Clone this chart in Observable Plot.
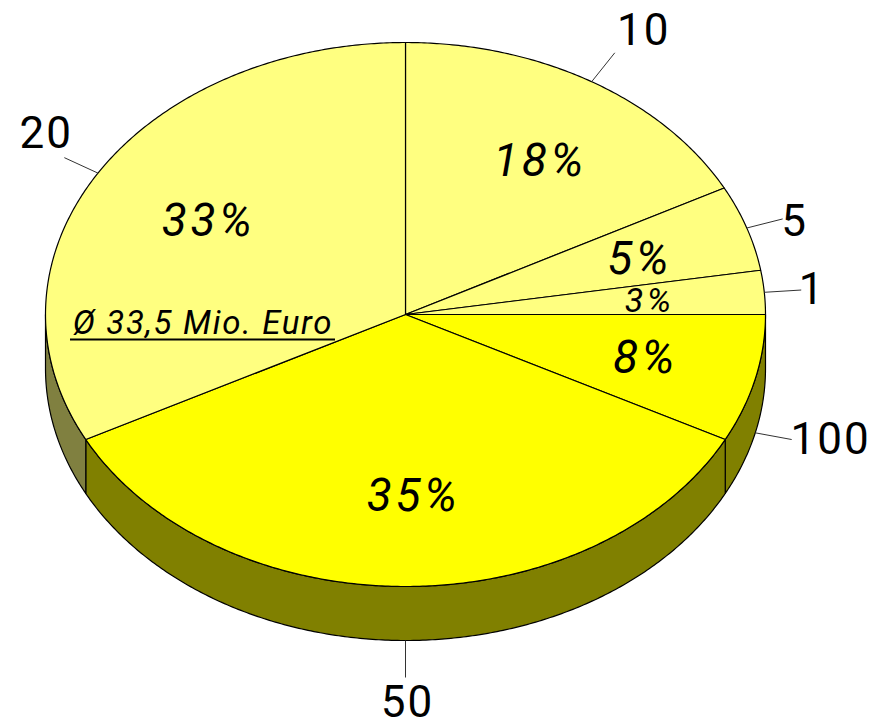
<!DOCTYPE html>
<html>
<head>
<meta charset="utf-8">
<script src="https://cdn.jsdelivr.net/npm/d3@7"></script>
<script src="https://cdn.jsdelivr.net/npm/@observablehq/plot@0.6"></script>
<style>
html,body{margin:0;padding:0;background:#fff}
svg{display:block}
.share{letter-spacing:3.5px}
.noteText{letter-spacing:1.7px}
.cat{letter-spacing:2px}
</style>
</head>
<body>
<div id="chart"></div>
<script>
// Data
const categories = ["10", "5", "1", "100", "50", "20"];
const shareLabels = ["18%", "5%", "3%", "8%", "35%", "33%"];
const sliceShares = [17.3, 5.1, 2.6, 7.6, 34.8, 32.6]; // measured sweep of each slice
const note = "Ø 33,5 Mio. Euro";

// Colours
const topColors = ["#ffff80", "#ffff80", "#ffff80", "#ffff00", "#ffff00", "#ffff80"];
const sideColors = ["#808040", "#808040", "#808040", "#808000", "#808000", "#808040"];

// Layout of the tilted disc, in pixels
const W = 872, H = 721, CX = 405, CY = 314, RX = 360, RY = 272, DEPTH = 54, LEADER = 37;
const depth = DEPTH / RY;
const total = d3.sum(sliceShares);
const rad = a => a * Math.PI / 180;
const px = a => Math.sin(rad(a));
const py = a => Math.cos(rad(a));

let acc = 0;
const slices = categories.map((c, i) => {
  const start = acc / total * 360;
  acc += sliceShares[i];
  const end = acc / total * 360;
  return {c, i, start, end, mid: (start + end) / 2};
});

function arc(a0, a1, dz = 0) {
  const n = Math.max(2, Math.ceil((a1 - a0) * 2));
  return d3.range(n + 1).map(k => {
    const a = a0 + (a1 - a0) * k / n;
    return {x: px(a), y: py(a) - dz};
  });
}

const tops = slices.flatMap(s => {
  const pts = [{x: 0, y: 0}, ...arc(s.start, s.end), {x: 0, y: 0}];
  return pts.map(p => ({...p, z: s.c, fill: topColors[s.i]}));
});
const sides = slices.flatMap(s => {
  const a0 = Math.max(s.start, 90), a1 = Math.min(s.end, 270);
  if (a1 <= a0) return [];
  const upper = arc(a0, a1), lower = arc(a0, a1, depth).reverse();
  return [...upper, ...lower, upper[0]].map(p => ({...p, z: s.c, fill: sideColors[s.i]}));
});

// Leaders leave the rim at each slice's middle angle
const leaders = slices.map(s => {
  const front = s.mid > 90 && s.mid < 270;
  const x1 = px(s.mid), y1 = py(s.mid) - (front ? depth : 0);
  const ux = px(s.mid) * RX, uy = py(s.mid) * RY, len = Math.hypot(ux, uy);
  return {
    c: s.c, x1, y1,
    x2: x1 + (ux / len) * LEADER / RX,
    y2: y1 + (uy / len) * LEADER / RY
  };
});

// Label placement relative to the leader end / slice middle, in pixels
const labelNudge = {
  "10": [29, -22], "5": [12, 3], "1": [11, 0], "100": [39, 0], "50": [2, 25], "20": [-18, -24]
};
const shareNudge = [[19, -9], [2, 4], [0, 2], [2, 0], [8, 2], [6, 0]];
const shareSizes = [46, 46, 34, 46, 46, 46];
const shareRadius = [0.62, 0.68, 0.68, 0.68, 0.66, 0.66];

const font = "Roboto";
const marks = [
  Plot.line(sides, {x: "x", y: "y", z: "z", fill: "fill", stroke: "#000", strokeWidth: 1.2}),
  Plot.line(tops, {x: "x", y: "y", z: "z", fill: "fill", stroke: "#000", strokeWidth: 1.2}),
  Plot.link(leaders, {x1: "x1", y1: "y1", x2: "x2", y2: "y2", stroke: "#333", strokeWidth: 1, curve: "linear"})
];

leaders.forEach(l => {
  const [dx, dy] = labelNudge[l.c];
  marks.push(Plot.text([l], {
    x: "x2", y: "y2", text: "c", dx, dy,
    fontFamily: font, fontSize: 44, fontWeight: 400, fill: "#000", className: "cat"
  }));
});

slices.forEach(s => {
  const [dx, dy] = shareNudge[s.i], r = shareRadius[s.i];
  marks.push(Plot.text([s], {
    x: px(s.mid) * r, y: py(s.mid) * r, text: () => shareLabels[s.i], dx, dy,
    fontFamily: font, fontStyle: "italic", fontSize: shareSizes[s.i], fontWeight: 400,
    fill: "#000", className: "share"
  }));
});

// Note sitting on the pale 20 slice, with its rule
const noteLeft = (70 - CX) / RX, noteRight = (335 - CX) / RX, noteY = (CY - 339) / RY;
marks.push(Plot.text([note], {
  x: (noteLeft + noteRight) / 2, y: noteY, text: d => d, dy: -16,
  fontFamily: font, fontStyle: "italic", fontSize: 33, fontWeight: 400, fill: "#000", className: "noteText"
}));
marks.push(Plot.ruleY([noteY], {x1: noteLeft, x2: noteRight, stroke: "#000", strokeWidth: 2}));

const chart = Plot.plot({
  width: W, height: H, margin: 0,
  x: {axis: null, domain: [-CX / RX, (W - CX) / RX], range: [0, W]},
  y: {axis: null, domain: [(CY - H) / RY, CY / RY], range: [H, 0]},
  style: {background: "#fff", overflow: "visible"},
  marks
});
document.getElementById("chart").append(chart);
</script>
</body>
</html>
